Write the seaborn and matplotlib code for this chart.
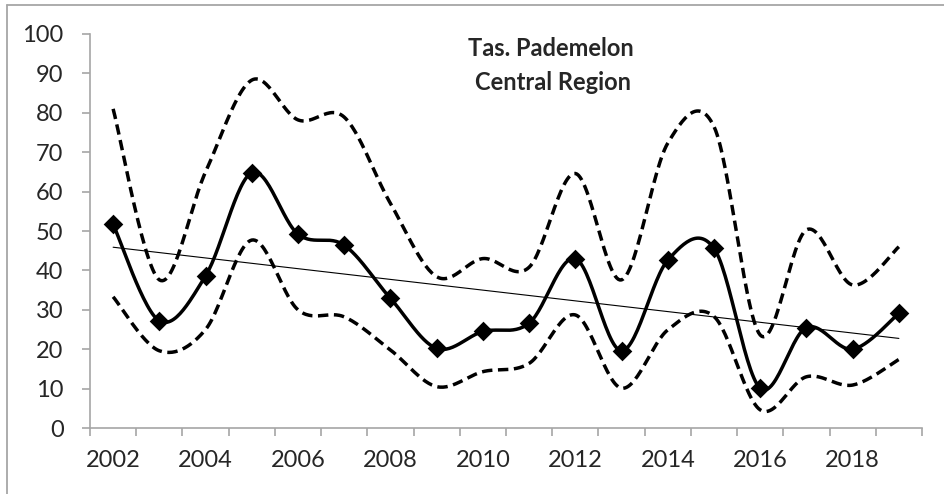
import numpy as np
import pandas as pd
import matplotlib
matplotlib.use("Agg")
import matplotlib.pyplot as plt
from matplotlib.lines import Line2D
import seaborn as sns

# survey years and values
years = list(range(2002, 2020))
mean_vals = [51.7, 27.2, 38.6, 64.8, 49.2, 46.4, 32.9, 20.2, 24.5,
             26.6, 43.0, 19.6, 42.6, 45.6, 10.1, 25.5, 20.0, 29.1]
upper_vals = [81.0, 37.6, 65.0, 88.3, 78.2, 78.9, 57.0, 38.4, 43.0,
              40.8, 64.6, 37.6, 72.3, 76.5, 23.6, 50.3, 36.3, 46.0]
lower_vals = [33.3, 19.6, 25.0, 47.7, 30.0, 28.2, 19.8, 10.5, 14.3,
              16.4, 28.7, 10.1, 24.9, 28.3, 4.6, 13.0, 10.9, 17.4]
title_lines = ["Tas. Pademelon", "Central Region"]


def smooth(vals, steps=30):
    # excel-style smoothed line (bezier through the points)
    p = np.column_stack([np.arange(len(vals)), vals]).astype(float)
    ext = np.vstack([p[0], p, p[-1]])
    xs, ys = [], []
    t = np.linspace(0, 1, steps)[:, None]
    for i in range(len(p) - 1):
        p0, p1, p2, p3 = ext[i], ext[i + 1], ext[i + 2], ext[i + 3]
        c1 = p1 + (p2 - p0) / 6
        c2 = p2 - (p3 - p1) / 6
        seg = ((1 - t) ** 3) * p1 + 3 * ((1 - t) ** 2) * t * c1 + 3 * (1 - t) * t ** 2 * c2 + t ** 3 * p2
        xs.extend(seg[:, 0])
        ys.extend(seg[:, 1])
    return pd.DataFrame({"x": xs, "y": ys})


sns.set_style("white")
plt.rcParams['font.family'] = ['Lato', 'DejaVu Sans']

fig = plt.figure(figsize=(9.44, 4.94), dpi=100)
ax = fig.add_axes([90 / 944, 66 / 494, 832 / 944, 394 / 494])

grey = "#a6a6a6"
dash_style = (3.0, 1.6)

up = smooth(upper_vals)
lo = smooth(lower_vals)
mn = smooth(mean_vals)
sns.lineplot(data=up, x="x", y="y", ax=ax, color="black", lw=2.5, sort=False, estimator=None)
sns.lineplot(data=lo, x="x", y="y", ax=ax, color="black", lw=2.5, sort=False, estimator=None)
for ln in ax.lines:
    ln.set_dashes(dash_style)
sns.lineplot(data=mn, x="x", y="y", ax=ax, color="black", lw=2.5, sort=False, estimator=None)

idx = np.arange(len(years))
sns.scatterplot(x=idx, y=mean_vals, ax=ax, marker="D", s=100, color="black",
                edgecolor="black", linewidth=0, zorder=5)

# linear trend of the mean
coef = np.polyfit(idx, mean_vals, 1)
sns.lineplot(x=idx, y=np.polyval(coef, idx), ax=ax, color="black", lw=0.8)

ax.set_xlim(-0.5, len(years) - 0.5)
ax.set_ylim(0, 100)
ax.set_yticks(range(0, 101, 10))
ax.set_xticks(idx[::2])
ax.set_xticklabels([str(y) for y in years[::2]])
ax.set_xticks(np.arange(-0.5, len(years), 1), minor=True)
ax.tick_params(axis="x", which="major", length=0, pad=16, labelsize=17)
ax.tick_params(axis="x", which="minor", length=6, width=1.2, color=grey, direction="out", bottom=True)
ax.tick_params(axis="y", length=6, width=1.2, color=grey, direction="out", left=True,
               pad=13, labelsize=17)
ax.set_xlabel("")
ax.set_ylabel("")
for side in ["top", "right"]:
    ax.spines[side].set_visible(False)
for side in ["left", "bottom"]:
    ax.spines[side].set_color(grey)
    ax.spines[side].set_linewidth(1.2)

fig.text(551 / 944, 1 - 49 / 494, title_lines[0], ha="center", va="center",
         fontsize=17, fontweight="bold")
fig.text(553 / 944, 1 - 82 / 494, title_lines[1], ha="center", va="center",
         fontsize=17, fontweight="bold")

# chart area border (top and left edges visible)
fig.add_artist(Line2D([7 / 944, 1], [1 - 5 / 494, 1 - 5 / 494], color=grey, lw=1.3))
fig.add_artist(Line2D([7 / 944, 7 / 944], [0, 1 - 5 / 494], color=grey, lw=1.3))

fig.savefig("out.png", dpi=100)
